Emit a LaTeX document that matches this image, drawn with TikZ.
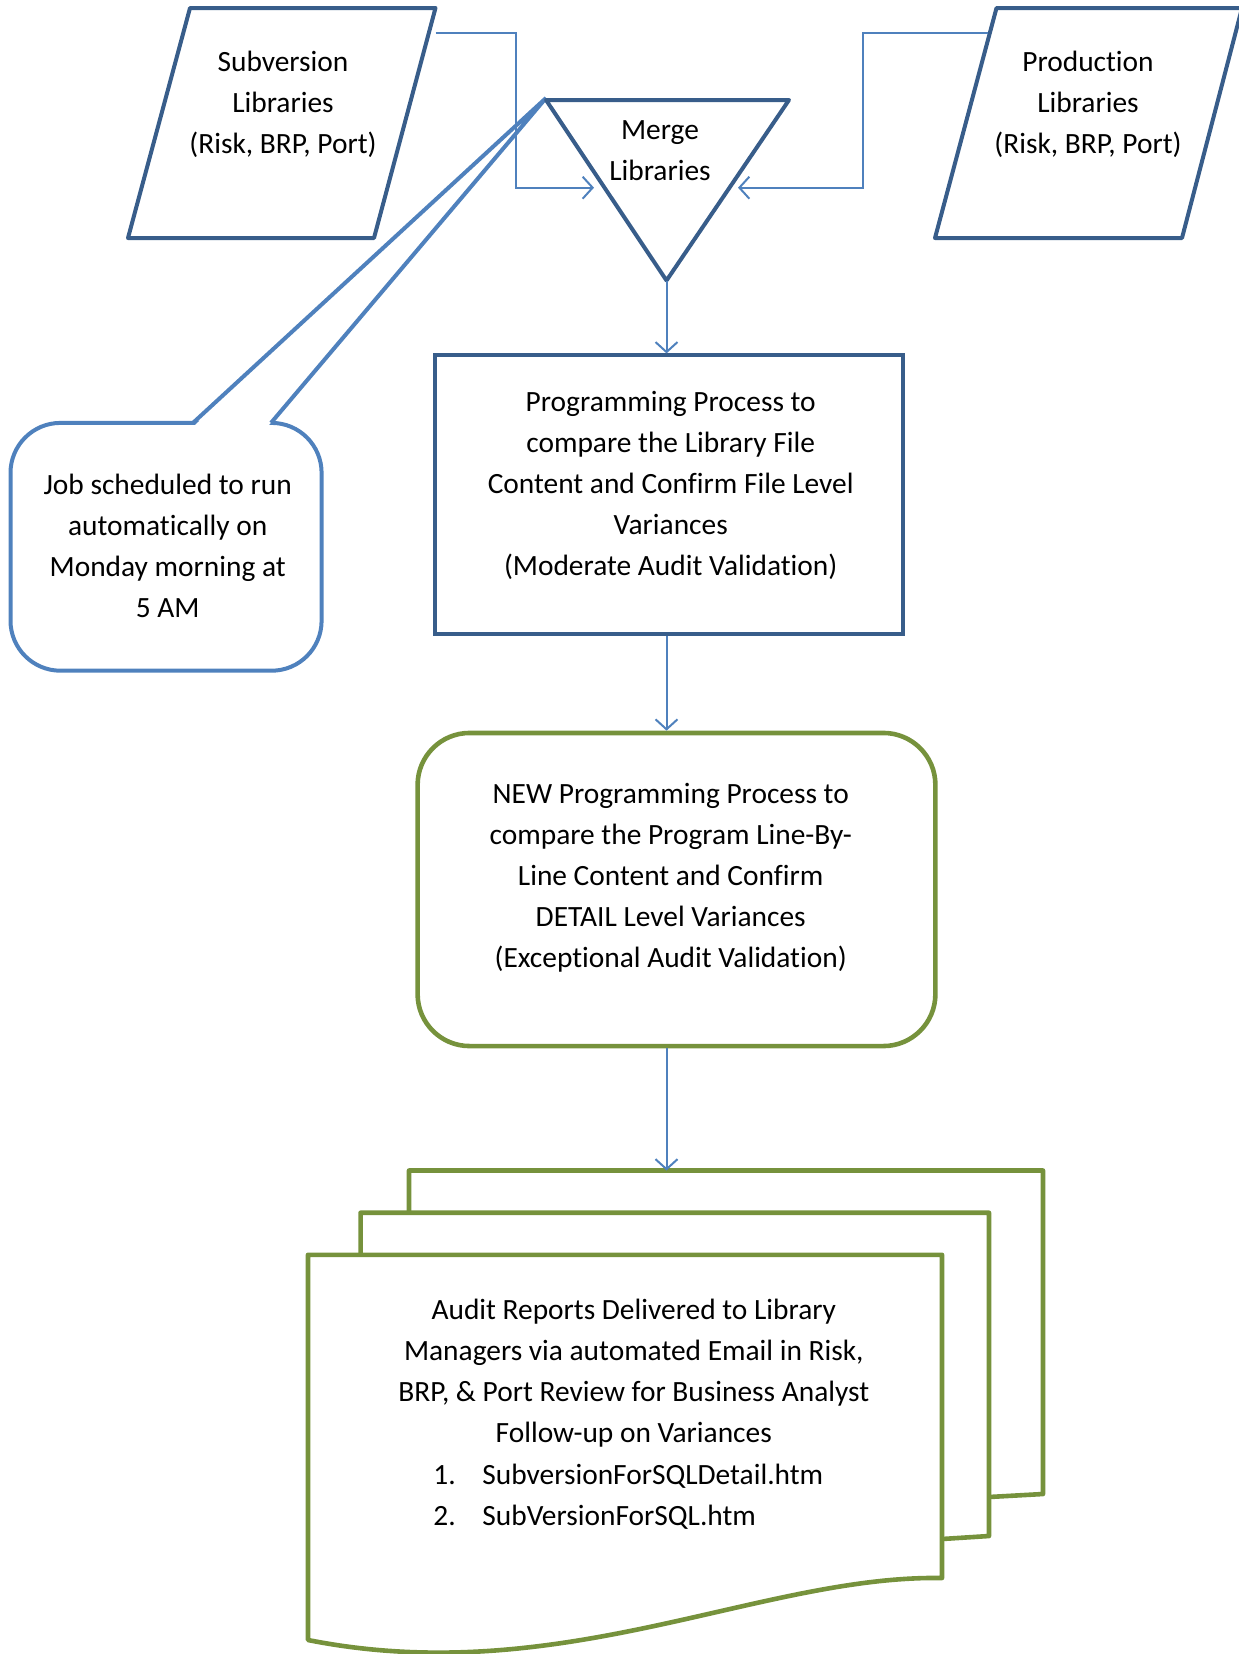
\documentclass[tikz,border=0pt]{standalone}
\usepackage{fontspec}
\setmainfont{Carlito}[Ligatures=NoCommon]
\usetikzlibrary{arrows.meta,calc}
\definecolor{dkblue}{RGB}{56,93,138}
\definecolor{ltblue}{RGB}{79,129,189}
\definecolor{olivegr}{RGB}{118,146,60}
\begin{document}
\begin{tikzpicture}[x=0.5pt,y=-0.5pt,
  txt/.style={align=center, font=\fontsize{14.7}{20.5}\selectfont, inner sep=0pt},
  outline/.style={draw=dkblue, line width=2pt},
  conn/.style={draw=ltblue, line width=1pt, -{Straight Barb[length=5pt,width=11pt,line width=1pt]}},
  greenline/.style={draw=olivegr, line width=2.3pt},
  callout/.style={draw=ltblue, line width=2pt}]
\useasboundingbox (0,0) rectangle (1238,1654);

% callout
\draw[callout, rounded corners=25pt] (10.5,422.9) rectangle (321.6,670.7);
\fill[white] (195,425) -- (546,98) -- (269,425) -- cycle;
\draw[callout] (193,422.9) -- (546,98) -- (271,422.9);
\node[txt] (job) at (167.7,546) {Job scheduled to run\\automatically on\\Monday morning at\\5 AM};

% library parallelograms
\draw[outline, line join=round] (190,8) -- (435.5,8) -- (374,238) -- (128,238) -- cycle;
\node[txt] (svtext) at (283,104.5) {Subversion\\Libraries\\(Risk, BRP, Port)};
\draw[outline, line join=round] (996.5,8) -- (1242,8) -- (1182,238) -- (935,238) -- cycle;
\node[txt] (pdtext) at (1088,104.5) {Production\\Libraries\\(Risk, BRP, Port)};

% merge triangle
\draw[outline, line join=round] (546,100) -- (789,100) -- (666.5,280.5) -- cycle;
\node[txt] (mgtext) at (660,150.5) {Merge\\Libraries};

\coordinate (svout) at (435.5,32.7);
\coordinate (pdout) at (988,32.7);
\coordinate (mgL) at (594,187.7);
\coordinate (mgR) at (738,187.7);
\coordinate (mgB) at (666.5,280.5);

\draw[conn] (svout) -- ++(80.2,0) |- (mgL);
\draw[conn] (pdout) -- ++(-125.4,0) |- (mgR);

% programming process box
\node[outline, minimum width=234.1pt, minimum height=139.2pt, inner sep=0pt] (proc) at (668.6,494.6) {};
\node[txt] (proctext) at (670.7,485) {Programming Process to\\compare the Library File\\Content and Confirm File Level\\Variances\\(Moderate Audit Validation)};

% new programming process
\node[draw=olivegr, line width=2.3pt, rounded corners=26pt, minimum width=258.9pt, minimum height=156.55pt, inner sep=0pt] (newp) at (676.5,889.5) {};
\node[txt] (newtext) at (670.7,877.5) {NEW Programming Process to\\compare the Program Line-By-\\Line Content and Confirm\\DETAIL Level Variances\\(Exceptional Audit Validation)};

% document stack
\coordinate (docTop) at (666.5,1170.5);
\draw[greenline, line join=round] (409,1212.7) -- (409,1170.5) -- (1043,1170.5) -- (1043,1494) -- (989,1497);
\draw[greenline, line join=round] (360.6,1254.8) -- (360.6,1212.7) -- (989,1212.7) -- (989,1536) -- (942,1539);
\draw[greenline, line join=round] (308,1254.8) -- (942,1254.8) -- (942,1578) .. controls (760,1575) and (560,1690) .. (308,1640) -- cycle;
\node[txt] (doctext) at (633.8,1373.5) {Audit Reports Delivered to Library\\Managers via automated Email in Risk,\\BRP, \& Port Review for Business Analyst\\Follow-up on Variances};
\node[txt, anchor=west] (item1) at (433,1476) {\makebox[24.5pt][l]{1.}SubversionForSQLDetail.htm};
\node[txt, anchor=west] (item2) at (433,1517) {\makebox[24.5pt][l]{2.}SubVersionForSQL.htm};

% vertical connectors
\draw[conn] (mgB) -- (mgB |- proc.north);
\draw[conn] (mgB |- proc.south) -- (mgB |- newp.north);
\draw[conn] (mgB |- newp.south) -- (docTop);
\end{tikzpicture}
\end{document}
